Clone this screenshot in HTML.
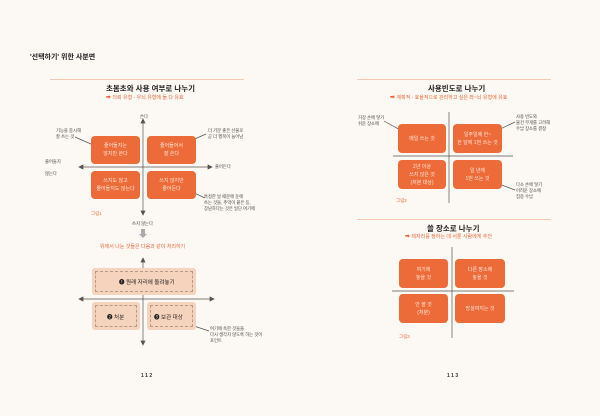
<!DOCTYPE html>
<html><head><meta charset="utf-8"><style>
*{margin:0;padding:0;box-sizing:border-box}
body{width:600px;height:416px;background:#fcf8f4;position:relative;overflow:hidden;font-family:"Liberation Sans","Noto Sans CJK KR",sans-serif;color:#333}
.a{position:absolute;white-space:nowrap}
.b{position:absolute;background:#ec6b39;border-radius:4px;color:#fde6da;font-size:5px;display:flex;align-items:center;justify-content:center;text-align:center;line-height:8px}
.f{position:absolute;background:#f6d3bd;border-radius:3px}
.d{position:absolute;border:1px dashed #b79a88}
.t{font-size:7.5px;font-weight:bold;color:#222}
.s{font-size:5px;color:#e8693a}
.n{font-size:4.3px;line-height:6px;color:#444}
.o{font-size:4.5px;color:#e8693a}
.hl{position:absolute;height:1px;background:#f3c9b3}
</style></head><body>
<div class="a" style="left:30px;top:52px;font-size:7px;font-weight:bold;color:#222">'선택하기' 위한 사분면</div>
<div class="hl" style="left:50px;top:79px;width:194px"></div>
<div class="a t" style="left:106px;top:83px">초봄초와 사용 여부로 나누기</div>
<div class="a s" style="left:106px;top:94px">➡ 의뢰 유형 · 우뇌 유형에 둘 다 유효</div>

<svg class="a" style="left:0;top:0" width="600" height="416">
<g stroke="#555" stroke-width="0.7" fill="#555">
<line x1="143" y1="122" x2="143" y2="212"/><polygon points="141,123 145,123 143,119"/><polygon points="141,211 145,211 143,215"/>
<line x1="82" y1="167" x2="209" y2="167"/><polygon points="83,165 83,169 79,167"/><polygon points="208,165 208,169 212,167"/>
<line x1="143" y1="262" x2="143" y2="341"/><polygon points="141,262 145,262 143,258"/><polygon points="141,341 145,341 143,345"/>
<line x1="82" y1="299" x2="211" y2="299"/><polygon points="83,297 83,301 79,299"/><polygon points="210,297 210,301 214,299"/>
<line x1="449" y1="112" x2="449" y2="203"/><line x1="393" y1="156" x2="513" y2="156"/>
<line x1="452" y1="247" x2="452" y2="338"/><line x1="392" y1="291" x2="514" y2="291"/>
<line x1="75" y1="137" x2="100" y2="148"/><line x1="206" y1="134" x2="188" y2="142"/><line x1="188" y1="190" x2="205" y2="198"/><line x1="191" y1="325" x2="209" y2="331"/>
<line x1="384" y1="121" x2="402" y2="131"/><line x1="515" y1="122" x2="496" y2="131"/><line x1="496" y1="183" x2="515" y2="190"/>
</g>
<path d="M141 229v5h-2l4 4 4-4h-2v-5z" fill="#aaa"/>
</svg>

<div class="a n" style="left:140px;top:114px">쓴다</div>
<div class="a n" style="left:45px;top:159px">줄어들지<br><br>않는다</div>
<div class="a n" style="left:215px;top:164px">줄어든다</div>
<div class="a n" style="left:56px;top:128px">기능을 중시해<br>잘 쓰는 것</div>
<div class="a n" style="left:208px;top:128px">더 기분 좋은 선물로<br>곧 더 행복이 늘어남</div>
<div class="a n" style="left:204px;top:194px">특정한 날 때문에 둔에<br>쓰는 것들, 추억이 붙은 등,<br>장남하다는 것은 일단 여기에</div>
<div class="b" style="left:91px;top:136px;width:49px;height:28px">줄어들지는<br>않지만 쓴다</div>
<div class="b" style="left:147px;top:136px;width:49px;height:28px">줄어들어서<br>잘 쓴다</div>
<div class="b" style="left:91px;top:171px;width:49px;height:28px">쓰지도 않고<br>줄어들지도 않는다</div>
<div class="b" style="left:147px;top:171px;width:49px;height:28px">쓰지 않지만<br>줄어든다</div>
<div class="a o" style="left:91px;top:211px">그림1</div>
<div class="a n" style="left:132px;top:221px">쓰지 않는다</div>
<div class="a s" style="left:100px;top:243px">위에서 나눈 것들은 다음과 같이 처리하기</div>

<div class="f" style="left:92px;top:268px;width:104px;height:27px"></div>
<div class="d" style="left:95px;top:271px;width:98px;height:21px"></div>
<div class="a" style="left:119px;top:278px;font-size:5.5px;color:#222">❶ 원래 자리에 돌려놓기</div>
<div class="f" style="left:92px;top:302px;width:48px;height:28px"></div>
<div class="d" style="left:95px;top:305px;width:42px;height:22px"></div>
<div class="a" style="left:107px;top:313px;font-size:5.5px;color:#222">❷ 처분</div>
<div class="f" style="left:147px;top:302px;width:49px;height:28px"></div>
<div class="d" style="left:150px;top:305px;width:43px;height:22px"></div>
<div class="a" style="left:154px;top:313px;font-size:5.5px;color:#222">❸ 보관 대상</div>
<div class="a n" style="left:210px;top:326px">여기에 속한 것들을<br>다시 생각지 않도록 하는 것이<br>포인트</div>
<div class="a" style="left:141px;top:373px;font-size:5px;font-weight:bold">1 1 2</div>

<div class="hl" style="left:357px;top:79px;width:194px"></div>
<div class="a t" style="left:428px;top:83px">사용빈도로 나누기</div>
<div class="a s" style="left:390px;top:94px">➡ 계획적 · 효율적으로 관리하고 싶은 좌~뇌 유형에 유효</div>
<div class="a n" style="left:358px;top:115px">거장 손에 닿기<br>쉬운 장소에</div>
<div class="a n" style="left:516px;top:114px">사용 빈도와<br>물건 무게를 고려해<br>수납 장소를 결정</div>
<div class="a n" style="left:516px;top:182px">다소 손에 닿기<br>어려운 장소에<br>집중 수납</div>
<div class="b" style="left:398px;top:124px;width:48px;height:29px">매일 쓰는 것</div>
<div class="b" style="left:453px;top:124px;width:49px;height:29px">일주일에 한~<br>한 달에 1번 쓰는 것</div>
<div class="b" style="left:398px;top:160px;width:48px;height:29px">2년 이상<br>쓰지 않은 것<br>(처분 대상)</div>
<div class="b" style="left:453px;top:160px;width:49px;height:29px">일 년에<br>1번 쓰는 것</div>
<div class="a o" style="left:396px;top:198px">그림2</div>

<div class="hl" style="left:357px;top:219px;width:194px"></div>
<div class="a t" style="left:427px;top:223px">쓸 장소로 나누기</div>
<div class="a s" style="left:405px;top:233px">➡ 제자리를 정하는 데 서툰 사람에게 추천</div>
<div class="b" style="left:399px;top:259px;width:49px;height:29px">여기에<br>놓을 것</div>
<div class="b" style="left:455px;top:259px;width:50px;height:29px">다른 장소에<br>놓을 것</div>
<div class="b" style="left:399px;top:294px;width:49px;height:29px">안 쓸 것<br>(처분)</div>
<div class="b" style="left:455px;top:294px;width:50px;height:29px">망설여지는 것</div>
<div class="a o" style="left:399px;top:334px">그림3</div>
<div class="a" style="left:447px;top:373px;font-size:5px;font-weight:bold">1 1 3</div>
</body></html>
